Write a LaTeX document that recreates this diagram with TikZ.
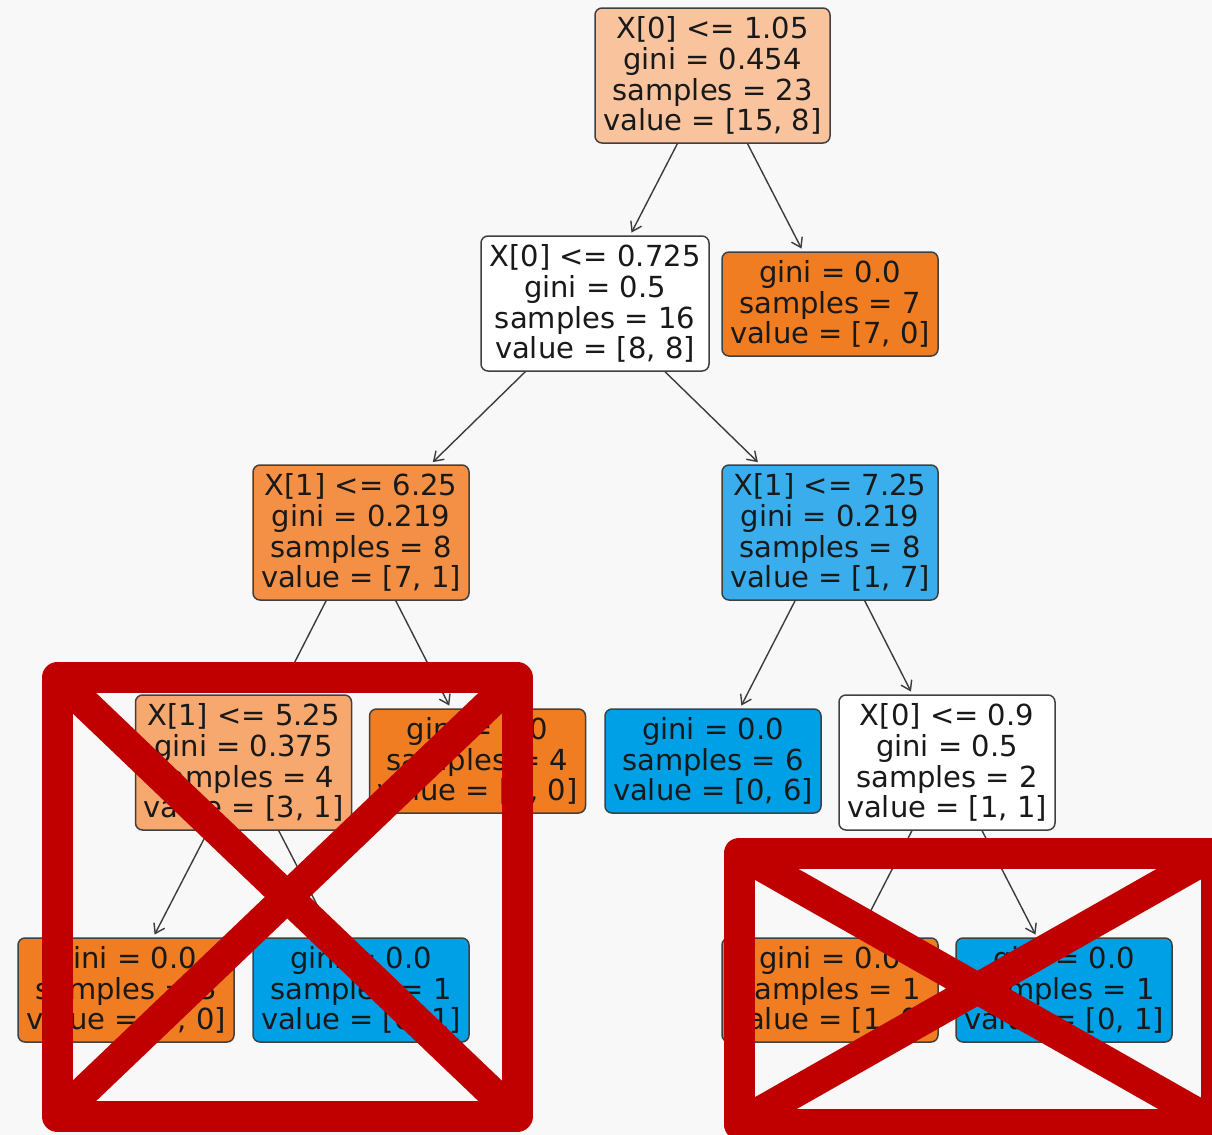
\documentclass[tikz,border=0pt]{standalone}
\usepackage{fontspec}
\setmainfont{DejaVu Sans}
\usetikzlibrary{arrows.meta}

\definecolor{bgcol}{RGB}{248,248,248}
\definecolor{bordercol}{RGB}{64,64,64}
\definecolor{edgecol}{RGB}{60,60,60}
\definecolor{textcol}{RGB}{25,25,25}
\definecolor{rootfill}{RGB}{249,195,158}
\definecolor{leftfill}{RGB}{243,144,69}
\definecolor{rightfill}{RGB}{58,174,236}
\definecolor{lowfill}{RGB}{246,168,110}
\definecolor{leaforange}{RGB}{240,125,33}
\definecolor{leafblue}{RGB}{0,160,230}
\definecolor{crossred}{RGB}{192,0,0}

\begin{document}
\begin{tikzpicture}[x=0.5pt,y=-0.5pt,
    >={Straight Barb[length=4.5pt,width=6pt]},
    box/.style={draw=bordercol, line width=0.75pt, rounded corners=3.5pt,
      align=center, inner sep=0pt, minimum width=108pt, text=textcol,
      font=\fontsize{14.5}{15.4}\selectfont},
    split/.style={box, minimum height=67.5pt},
    leaf/.style={box, minimum height=52pt},
    edge/.style={->, draw=edgecol, line width=0.7pt, shorten >=1.5pt},
    cross/.style={draw=crossred, line width=15.5pt, line join=round}]
  \clip (0,0) rectangle (1212,1135);
  \fill[bgcol] (0,0) rectangle (1212,1135);

  % tree nodes
  \node[split, fill=rootfill, minimum width=117.5pt] (n0) at (712.5,75.5) {X[0] <= 1.05\\gini = 0.454\\samples = 23\\value = [15, 8]};
  \node[split, fill=white, minimum width=114pt] (n1) at (595,303.5) {X[0] <= 0.725\\gini = 0.5\\samples = 16\\value = [8, 8]};
  \node[leaf, fill=leaforange] (n2) at (830,304) {gini = 0.0\\samples = 7\\value = [7, 0]};
  \node[split, fill=leftfill] (n3) at (361,532.5) {X[1] <= 6.25\\gini = 0.219\\samples = 8\\value = [7, 1]};
  \node[split, fill=rightfill] (n4) at (830,532.5) {X[1] <= 7.25\\gini = 0.219\\samples = 8\\value = [1, 7]};
  \node[split, fill=lowfill] (n5) at (243.5,762.5) {X[1] <= 5.25\\gini = 0.375\\samples = 4\\value = [3, 1]};
  \node[leaf, fill=leaforange] (n6) at (477.5,761) {gini = 0.0\\samples = 4\\value = [4, 0]};
  \node[leaf, fill=leafblue] (n7) at (713,761) {gini = 0.0\\samples = 6\\value = [0, 6]};
  \node[split, fill=white] (n8) at (947,762.5) {X[0] <= 0.9\\gini = 0.5\\samples = 2\\value = [1, 1]};
  \node[leaf, fill=leaforange] (n9) at (126,990) {gini = 0.0\\samples = 3\\value = [3, 0]};
  \node[leaf, fill=leafblue] (n10) at (361,990) {gini = 0.0\\samples = 1\\value = [0, 1]};
  \node[leaf, fill=leaforange] (n11) at (830,990) {gini = 0.0\\samples = 1\\value = [1, 0]};
  \node[leaf, fill=leafblue] (n12) at (1064,990) {gini = 0.0\\samples = 1\\value = [0, 1]};

  % edges
  \draw[edge] (n0) -- (n1);
  \draw[edge] (n0) -- (n2);
  \draw[edge] (n1) -- (n3);
  \draw[edge] (n1) -- (n4);
  \draw[edge] (n3) -- (n5);
  \draw[edge] (n3) -- (n6);
  \draw[edge] (n4) -- (n7);
  \draw[edge] (n4) -- (n8);
  \draw[edge] (n5) -- (n9);
  \draw[edge] (n5) -- (n10);
  \draw[edge] (n8) -- (n11);
  \draw[edge] (n8) -- (n12);

  % red crosses
  \draw[cross] (57.5,677.5) rectangle (517,1116.5);
  \draw[cross] (57.5,677.5) -- (517,1116.5) (517,677.5) -- (57.5,1116.5);
  \draw[cross] (739,853) rectangle (1216,1124);
  \draw[cross] (739,853) -- (1216,1124) (1216,853) -- (739,1124);
\end{tikzpicture}
\end{document}
